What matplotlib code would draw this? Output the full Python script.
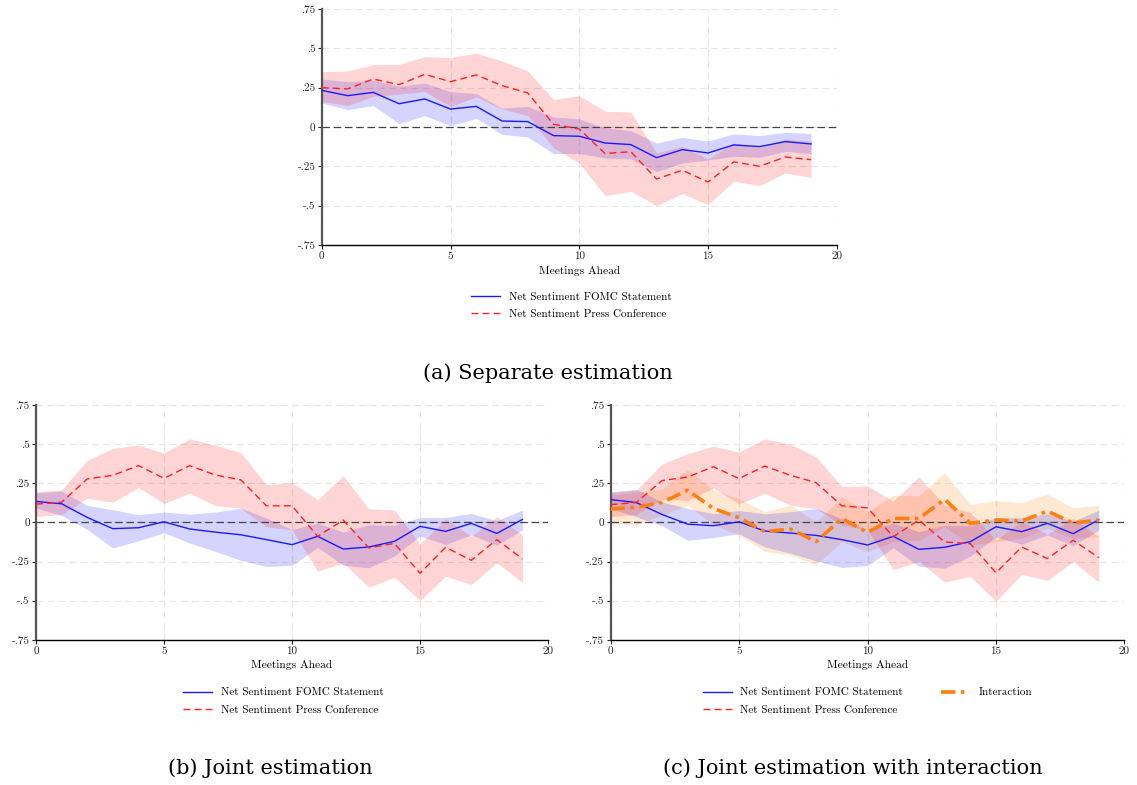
import numpy as np
import matplotlib.pyplot as plt
from matplotlib.ticker import FixedLocator, FuncFormatter

plt.rcParams['font.family'] = ['cmr10', 'DejaVu Serif']
plt.rcParams['axes.unicode_minus'] = False
plt.rcParams['axes.formatter.use_mathtext'] = False

meetings = np.arange(20)

# (a) separate estimation
a_stmt = [0.233, 0.199, 0.22, 0.148, 0.178, 0.114, 0.131, 0.038, 0.034, -0.055,
          -0.059, -0.102, -0.112, -0.195, -0.144, -0.165, -0.114, -0.125, -0.093, -0.108]
a_stmt_hi = [0.305, 0.288, 0.297, 0.258, 0.28, 0.225, 0.212, 0.119, 0.131, 0.064,
             0.051, -0.006, -0.023, -0.102, -0.066, -0.089, -0.044, -0.055, -0.034, -0.042]
a_stmt_lo = [0.153, 0.11, 0.136, 0.021, 0.072, 0.008, 0.055, -0.047, -0.064, -0.169,
             -0.169, -0.197, -0.203, -0.284, -0.229, -0.21, -0.186, -0.193, -0.155, -0.169]
a_press = [0.25, 0.242, 0.305, 0.269, 0.335, 0.288, 0.331, 0.263, 0.216, 0.017,
           -0.013, -0.169, -0.157, -0.331, -0.275, -0.35, -0.222, -0.25, -0.191, -0.208]
a_press_hi = [0.352, 0.356, 0.396, 0.398, 0.447, 0.441, 0.47, 0.419, 0.356, 0.174,
              0.199, 0.1, 0.095, -0.165, -0.123, -0.203, -0.102, -0.133, -0.076, -0.091]
a_press_lo = [0.163, 0.136, 0.195, 0.208, 0.225, 0.131, 0.191, 0.114, 0.072, -0.133,
              -0.229, -0.436, -0.409, -0.5, -0.424, -0.494, -0.345, -0.373, -0.292, -0.322]

# (b) joint estimation
b_stmt = [0.134, 0.119, 0.032, -0.04, -0.034, 0.004, -0.042, -0.062, -0.079, -0.11,
          -0.142, -0.089, -0.17, -0.157, -0.121, -0.025, -0.057, -0.006, -0.07, 0.019]
b_stmt_hi = [0.189, 0.2, 0.108, 0.081, 0.049, 0.066, 0.053, 0.066, 0.091, 0.028,
             -0.045, -0.004, -0.062, -0.015, -0.019, 0.032, 0.032, 0.057, 0.011, 0.079]
b_stmt_lo = [0.091, 0.045, -0.045, -0.163, -0.117, -0.066, -0.132, -0.185, -0.242, -0.282,
             -0.274, -0.159, -0.274, -0.29, -0.214, -0.087, -0.142, -0.079, -0.146, -0.047]
b_press = [0.117, 0.129, 0.278, 0.301, 0.363, 0.282, 0.363, 0.303, 0.272, 0.106,
           0.106, -0.089, 0.015, -0.163, -0.134, -0.325, -0.159, -0.242, -0.11, -0.233]
b_press_hi = [0.197, 0.208, 0.397, 0.473, 0.494, 0.443, 0.533, 0.494, 0.446, 0.24,
              0.255, 0.144, 0.297, 0.087, 0.079, -0.138, 0.023, -0.089, 0.036, -0.079]
b_press_lo = [0.038, 0.049, 0.155, 0.129, 0.223, 0.121, 0.187, 0.108, 0.091, -0.028,
              -0.047, -0.312, -0.259, -0.414, -0.35, -0.499, -0.344, -0.397, -0.259, -0.382]

# (c) joint estimation with interaction
c_stmt = [0.146, 0.127, 0.051, -0.011, -0.021, 0.004, -0.055, -0.068, -0.083, -0.11,
          -0.144, -0.089, -0.172, -0.159, -0.123, -0.028, -0.059, -0.006, -0.072, 0.017]
c_stmt_hi = [0.195, 0.212, 0.131, 0.089, 0.057, 0.076, 0.055, 0.068, 0.089, 0.025,
             -0.047, -0.006, -0.059, -0.017, -0.021, 0.03, 0.03, 0.055, 0.008, 0.078]
c_stmt_lo = [0.089, 0.036, -0.021, -0.114, -0.097, -0.072, -0.157, -0.197, -0.246, -0.288,
             -0.275, -0.161, -0.28, -0.292, -0.216, -0.093, -0.14, -0.08, -0.148, -0.049]
c_press = [0.114, 0.127, 0.267, 0.29, 0.356, 0.28, 0.36, 0.301, 0.254, 0.106,
           0.093, -0.091, 0.015, -0.125, -0.136, -0.322, -0.157, -0.231, -0.114, -0.225]
c_press_hi = [0.191, 0.206, 0.373, 0.439, 0.487, 0.449, 0.534, 0.5, 0.419, 0.229,
              0.233, 0.136, 0.292, 0.11, 0.064, -0.114, 0.008, -0.076, 0.025, -0.091]
c_press_lo = [0.036, 0.051, 0.148, 0.14, 0.22, 0.119, 0.186, 0.11, 0.089, -0.017,
              -0.047, -0.301, -0.25, -0.381, -0.345, -0.504, -0.331, -0.371, -0.25, -0.381]
c_inter = [0.085, 0.097, 0.127, 0.206, 0.089, 0.03, -0.059, -0.042, -0.123, 0.025,
           -0.064, 0.025, 0.025, 0.148, -0.006, 0.015, 0.008, 0.072, -0.004, 0.015]
c_inter_hi = [0.174, 0.195, 0.212, 0.339, 0.206, 0.153, 0.068, 0.11, 0.004, 0.163,
              0.068, 0.174, 0.17, 0.318, 0.114, 0.14, 0.127, 0.182, 0.093, 0.11]
c_inter_lo = [-0.004, -0.017, 0.047, 0.11, -0.017, -0.08, -0.186, -0.208, -0.271, -0.123,
              -0.186, -0.123, -0.114, -0.028, -0.144, -0.123, -0.102, -0.038, -0.102, -0.091]

xticks = [0, 5, 10, 15, 20]
yticks = [-0.75, -0.5, -0.25, 0, 0.25, 0.5, 0.75]

BLUE = '#1a1aff'
RED = '#ff2020'
ORANGE = '#ff7f0e'


def fmt_y(v, pos):
    if abs(v) < 1e-9:
        return '0'
    return ('%g' % v).replace('0.', '.')


def style_axes(ax):
    ax.set_xlim(0, 20)
    ax.set_ylim(-0.75, 0.75)
    ax.xaxis.set_major_locator(FixedLocator(xticks))
    ax.yaxis.set_major_locator(FixedLocator(yticks))
    ax.yaxis.set_major_formatter(FuncFormatter(fmt_y))
    ax.grid(True, color='#e6e6e6', linestyle=(0, (6, 4)), linewidth=0.8)
    ax.set_axisbelow(True)
    for side in ['top', 'right']:
        ax.spines[side].set_visible(False)
    ax.spines['left'].set_color('#555555')
    ax.spines['left'].set_linewidth(1.6)
    ax.spines['bottom'].set_color('black')
    ax.spines['bottom'].set_linewidth(1.0)
    ax.tick_params(labelsize=8, length=3, width=0.8, pad=1.5, colors='#222222')
    ax.axhline(0, color='#444444', linestyle=(0, (6, 3)), linewidth=0.9, zorder=4)
    ax.set_xlabel('Meetings Ahead', fontsize=8.3, labelpad=3.5)


def draw_pair(ax, stmt, stmt_lo, stmt_hi, press, press_lo, press_hi):
    ax.fill_between(meetings, stmt_lo, stmt_hi, color='#0000ff', alpha=0.17, linewidth=0)
    ax.fill_between(meetings, press_lo, press_hi, color='#ff2a2a', alpha=0.2, linewidth=0)
    l1, = ax.plot(meetings, stmt, color=BLUE, linewidth=1.0, zorder=5,
                  label='Net Sentiment FOMC Statement')
    l2, = ax.plot(meetings, press, color=RED, linewidth=1.0, linestyle=(0, (5, 3)),
                  zorder=5, label='Net Sentiment Press Conference')
    return l1, l2


fig = plt.figure(figsize=(11.37, 7.85), dpi=100)

ax_a = fig.add_axes([0.283, 0.688, 0.453, 0.3005])
ax_b = fig.add_axes([0.0317, 0.185, 0.4503, 0.299])
ax_c = fig.add_axes([0.537, 0.185, 0.452, 0.299])

for ax in [ax_a, ax_b, ax_c]:
    style_axes(ax)

la = draw_pair(ax_a, a_stmt, a_stmt_lo, a_stmt_hi, a_press, a_press_lo, a_press_hi)
lb = draw_pair(ax_b, b_stmt, b_stmt_lo, b_stmt_hi, b_press, b_press_lo, b_press_hi)

ax_c.fill_between(meetings, c_inter_lo, c_inter_hi, color='#ff9a2e', alpha=0.22, linewidth=0)
lc = draw_pair(ax_c, c_stmt, c_stmt_lo, c_stmt_hi, c_press, c_press_lo, c_press_hi)
li, = ax_c.plot(meetings, c_inter, color=ORANGE, linewidth=2.6,
                linestyle=(0, (4, 1.5, 1, 1.5)), zorder=6, label='Interaction')

leg_kw = dict(frameon=False, fontsize=8, handlelength=2.6, handletextpad=0.8,
              borderpad=0, borderaxespad=0, labelspacing=0.7, loc='upper left')

fig.legend(handles=list(la), bbox_to_anchor=(0.4145, 0.628), **leg_kw)
fig.legend(handles=list(lb), bbox_to_anchor=(0.161, 0.124), **leg_kw)
fig.legend(handles=[lc[0], lc[1], li], ncol=2, columnspacing=3.4,
           bbox_to_anchor=(0.618, 0.124), **leg_kw)

cap_kw = dict(ha='center', va='center', fontsize=15, family='DejaVu Serif')
fig.text(0.482, 0.525, '(a) Separate estimation', **cap_kw)
fig.text(0.238, 0.022, '(b) Joint estimation', **cap_kw)
fig.text(0.75, 0.022, '(c) Joint estimation with interaction', **cap_kw)

fig.savefig('out.png', dpi=100)
